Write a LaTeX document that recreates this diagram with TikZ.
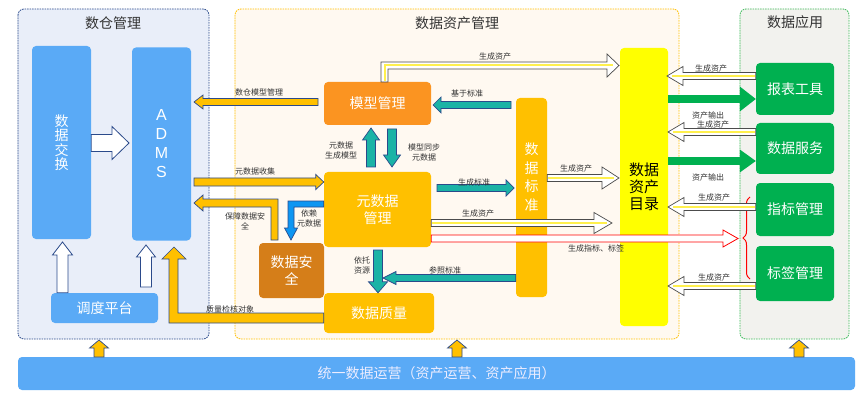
\documentclass[tikz,border=0pt]{standalone}
\usepackage{fontspec}
\setmainfont{Noto Sans CJK SC}
\newfontfamily\latinsans{Liberation Sans}
\usetikzlibrary{calc,decorations.pathreplacing}
\definecolor{boxblue}{HTML}{5AAAF6}
\definecolor{navy}{HTML}{2B4A8B}
\definecolor{lpanel}{HTML}{E9EEF9}
\definecolor{mpanel}{HTML}{FFF9F1}
\definecolor{rpanel}{HTML}{F2F2EE}
\definecolor{gold}{HTML}{FFC000}
\definecolor{mmorange}{HTML}{FB9421}
\definecolor{secorange}{HTML}{D57E19}
\definecolor{appgreen}{HTML}{00B050}
\definecolor{panelgreen}{HTML}{3DBB5A}
\definecolor{tealarrow}{HTML}{1BB3A6}
\definecolor{depblue}{HTML}{0E96F2}
\definecolor{txtgray}{HTML}{333333}
\definecolor{stripeyellow}{HTML}{FFF04D}
\definecolor{catyellow}{HTML}{FFFF00}
\newcommand{\BArrow}[6]{%
  \coordinate (bA) at (#2);
  \coordinate (bB) at (#3);
  \coordinate (bH) at ($(bB)!#6pt!(bA)$);
  \draw[#1] ($(bA)!#4pt!90:(bB)$) -- ($(bH)!#4pt!-90:(bA)$) -- ($(bH)!#5pt!-90:(bA)$) -- (bB) -- ($(bH)!#5pt!90:(bA)$) -- ($(bH)!#4pt!90:(bA)$) -- ($(bA)!#4pt!-90:(bB)$) -- cycle;
}
\newcommand{\SArrow}[5]{%
  \BArrow{harr}{#1}{#2}{#3}{#4}{#5}
  \draw[stripe] ($(bA)!0.8pt!(bB)$) -- ($(bB)!5pt!(bA)$);
}
\begin{document}
\begin{tikzpicture}[x=1pt,y=-1pt,
  box/.style={rectangle, rounded corners=4pt, inner sep=0pt, text=white, font=\fontsize{14}{17}\selectfont, align=center},
  lbl/.style={font=\fontsize{8}{10}\selectfont, text=txtgray, align=center, inner sep=0pt},
  ttl/.style={font=\fontsize{14}{16}\selectfont, text=txtgray, inner sep=0pt},
  panel/.style={rounded corners=6pt, line width=0.8pt, dash pattern=on 1.6pt off 0.9pt},
  yarr/.style={fill=gold, draw=navy, line width=0.7pt, line join=miter},
  tarr/.style={fill=tealarrow, draw=navy, line width=0.7pt, line join=miter},
  barr/.style={fill=depblue, draw=navy, line width=0.7pt, line join=miter},
  warr/.style={fill=white, draw=navy, line width=0.8pt, line join=miter},
  harr/.style={fill=white, draw=black!70, line width=0.7pt, line join=miter},
  rarr/.style={fill=white, draw=red, line width=0.8pt, line join=miter},
  garr/.style={fill=appgreen, draw=none},
  stripe/.style={draw=stripeyellow, line width=2pt}
]
\fill[white] (0,0) rectangle (865,401);
\useasboundingbox (0,0) rectangle (865,401);

% panels
\draw[panel, fill=lpanel, draw=navy] (18,9) rectangle (209,339);
\draw[panel, fill=mpanel, draw=gold] (235,9) rectangle (679,339);
\draw[panel, fill=rpanel, draw=panelgreen] (740,9) rectangle (849,339);
\node[ttl] (t1) at (113,23) {数仓管理};
\node[ttl] (t2) at (457,23) {数据资产管理};
\node[ttl] (t3) at (795,22) {数据应用};

% left boxes
\node[box, fill=boxblue, minimum width=59pt, minimum height=193pt, font=\fontsize{14}{14.5}\selectfont] (dx) at (61.5,142.5) {数\\据\\交\\换};
\node[box, fill=boxblue, minimum width=59pt, minimum height=193pt, font=\latinsans\fontsize{16}{19}\selectfont] (adms) at (161.5,144) {A\\D\\M\\S};
\node[box, fill=boxblue, minimum width=107pt, minimum height=30pt] (dd) at (104.5,308) {调度平台};

% middle boxes
\node[box, fill=mmorange, minimum width=107pt, minimum height=43pt] (mm) at (377.5,103.5) {模型管理};
\node[box, fill=gold, minimum width=107pt, minimum height=75pt] (md) at (377.5,209.5) {元数据\\管理};
\node[box, fill=secorange, minimum width=65pt, minimum height=55pt] (ds) at (291.5,270.5) {数据安\\全};
\node[box, fill=gold, minimum width=110pt, minimum height=40pt] (dq) at (379,313) {数据质量};
\node[box, fill=gold, minimum width=31pt, minimum height=199pt] (dstd) at (531.5,197.5) {};
\node[box, font=\fontsize{14}{18.5}\selectfont] (dstdtxt) at (531.5,177) {数\\据\\标\\准};
\node[box, fill=catyellow, text=black, minimum width=48pt, minimum height=278pt, font=\fontsize{15}{17}\selectfont] (cat) at (644,187) {数据\\资产\\目录};

% right boxes
\node[box, fill=appgreen, minimum width=78pt, minimum height=52pt] (bb) at (795,89) {报表工具};
\node[box, fill=appgreen, minimum width=78pt, minimum height=51pt] (sv) at (795,148.5) {数据服务};
\node[box, fill=appgreen, minimum width=78pt, minimum height=53pt] (zb) at (795,209.5) {指标管理};
\node[box, fill=appgreen, minimum width=78pt, minimum height=55pt] (bq) at (795,273.5) {标签管理};

% bottom bar
\node[box, fill=boxblue, text=white!93!blue, minimum width=837pt, minimum height=33pt] (bar) at (436.5,373.5) {统一数据运营（资产运营、资产应用）};
\BArrow{yarr}{99,357}{99,340}{5}{9.5}{8}
\BArrow{yarr}{457,357}{457,340}{5}{9.5}{8}
\BArrow{yarr}{799,357}{799,340}{5}{9.5}{8}

% left panel arrows
\BArrow{warr}{dx.east |- 0,143}{129,143}{8.5}{16.5}{17}
\BArrow{warr}{dd.north -| 62.5,0}{62.5,242}{5.5}{10}{13}
\BArrow{warr}{146,287}{146,245}{5.5}{9.5}{12}

% yellow arrows
\BArrow{yarr}{318,102}{194,102}{3.5}{7}{9}
\node[lbl] at (259,92) {数仓模型管理};
\BArrow{yarr}{194,182}{md.west |- 0,182}{4}{7.5}{8}
\node[lbl] at (255,171) {元数据收集};
\draw[yarr] (278,240) -- (278,199) -- (203,199) -- (203,195) -- (194,203) -- (203,211) -- (203,207) -- (271,207) -- (271,240) -- cycle;
\node[lbl] at (245,221) {保障数据安\\全};
\draw[yarr] (dq.west |- 0,313) -- (178,313) -- (178,259) -- (186,259) -- (174,247) -- (162,259) -- (169,259) -- (169,323) -- (dq.west |- 0,323) -- cycle;
\node[lbl] at (230,309) {质量检核对象};

% blue bent arrow
\draw[barr] (md.west |- 0,201) -- (288,201) -- (288,228) -- (284.5,228) -- (291,240) -- (297.5,228) -- (294,228) -- (294,207) -- (md.west |- 0,207) -- cycle;
\node[lbl] at (309,218) {依赖\\元数据};

% teal arrows
\BArrow{tarr}{371,167}{371,128}{4.5}{8.5}{12}
\node[lbl] at (341,150) {元数据\\生成模型};
\BArrow{tarr}{392,129}{392,167}{4.5}{8.5}{12}
\node[lbl] at (424,152) {模型同步\\元数据};
\BArrow{tarr}{511,105}{433,105}{3.5}{8}{8}
\node[lbl] at (467,93) {基于标准};
\BArrow{tarr}{437,188}{514,188}{3.5}{8}{8}
\node[lbl] at (474,182) {生成标准};
\BArrow{tarr}{378,250}{dq.north -| 378,0}{4.5}{9.5}{11}
\node[lbl] at (362,265) {依托\\资源};
\BArrow{tarr}{dstd.west |- 0,278}{383,278}{3.5}{6.5}{13}
\node[lbl] at (445,270) {参照标准};

% hollow asset arrows
\draw[harr] (381,82) -- (381,62) -- (607,62) -- (607,54) -- (619,65.5) -- (607,77) -- (607,69) -- (388,69) -- (388,82) -- cycle;
\draw[stripe] (384.5,81) -- (384.5,65.5) -- (613,65.5);
\node[lbl] at (495,56) {生成资产};
\SArrow{dstd.east |- 0,178}{619,178}{3.5}{11}{17}
\node[lbl] at (576,168) {生成资产};
\SArrow{md.east |- 0,223}{612,223}{3.5}{10.5}{18}
\node[lbl] at (478,213) {生成资产};

% red arrow + brace
\BArrow{rarr}{md.east |- 0,238.5}{738,238.5}{3.5}{8.5}{15}
\node[lbl] at (596,248) {生成指标、标签};
\draw[red, line width=1pt, decorate, decoration={brace, amplitude=7pt}] (750,279) -- (750,197);

% right side arrows
\SArrow{bb.west |- 0,76}{667,76}{3.5}{9.5}{16}
\node[lbl] at (711,68) {生成资产};
\BArrow{garr}{668,99}{bb.west |- 0,99}{3.8}{12.5}{16}
\node[lbl] at (708,115) {资产输出};
\node[lbl] at (713,124) {生成资产};
\SArrow{sv.west |- 0,132}{668,132}{3.5}{9.5}{16}
\BArrow{garr}{668,161}{sv.west |- 0,161}{3.8}{11.5}{16}
\node[lbl] at (708,177) {资产输出};
\SArrow{zb.west |- 0,207}{668,207}{3.5}{9.5}{16}
\node[lbl] at (714,197) {生成资产};
\SArrow{bq.west |- 0,286}{668,286}{3.5}{9.5}{16}
\node[lbl] at (714,277) {生成资产};
\end{tikzpicture}
\end{document}
